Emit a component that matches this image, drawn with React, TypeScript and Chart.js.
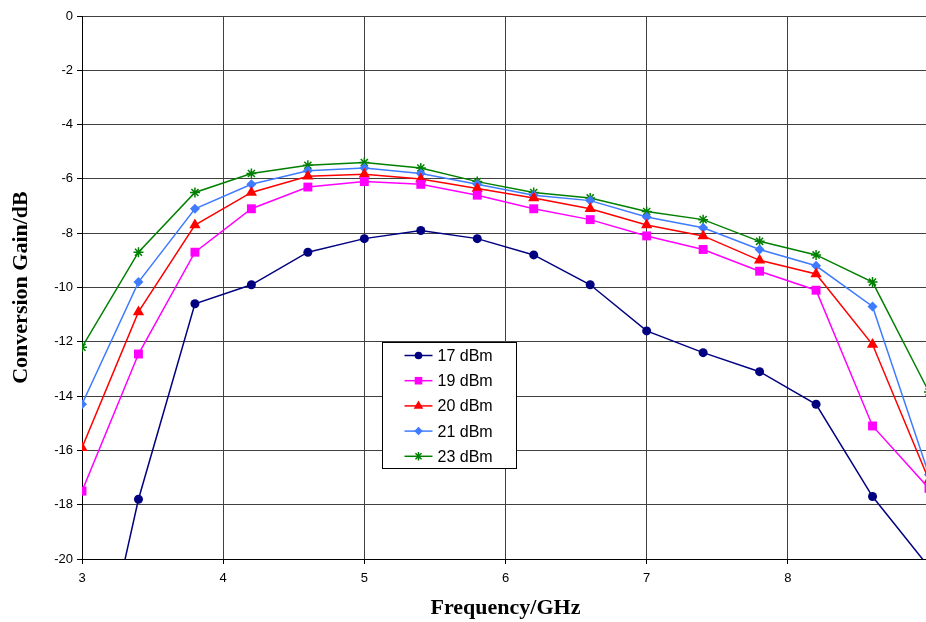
import React, { useEffect, useRef } from 'react';
import { Chart, registerables } from 'chart.js';

Chart.register(...registerables);

const frequencies = [3, 3.4, 3.8, 4.2, 4.6, 5, 5.4, 5.8, 6.2, 6.6, 7, 7.4, 7.8, 8.2, 8.6, 9];
const gain17 = [-27.1, -17.8, -10.6, -9.9, -8.7, -8.2, -7.9, -8.2, -8.8, -9.9, -11.6, -12.4, -13.1, -14.3, -17.7, -20.3];
const gain19 = [-17.5, -12.45, -8.7, -7.1, -6.3, -6.1, -6.2, -6.6, -7.1, -7.5, -8.1, -8.6, -9.4, -10.1, -15.1, -17.4];
const gain20 = [-15.9, -10.9, -7.7, -6.5, -5.9, -5.83, -6.0, -6.35, -6.7, -7.1, -7.7, -8.1, -9.0, -9.5, -12.1, -17.1];
const gain21 = [-14.3, -9.8, -7.1, -6.2, -5.7, -5.6, -5.8, -6.2, -6.6, -6.8, -7.4, -7.8, -8.6, -9.2, -10.7, -16.9];
const gain23 = [-12.2, -8.7, -6.5, -5.8, -5.5, -5.4, -5.6, -6.1, -6.5, -6.7, -7.2, -7.5, -8.3, -8.8, -9.8, -13.85];

const seriesLabels = ['17 dBm', '19 dBm', '20 dBm', '21 dBm', '23 dBm'];
const seriesValues = [gain17, gain19, gain20, gain21, gain23];
const seriesColors = ['#000080', '#FF00FF', '#FF0000', '#3F7BFF', '#008000'];
const seriesMarkers = ['circle', 'rect', 'triangle', 'rectRot', 'star'];
const seriesMarkerRadius = [4.5, 6.3, 6.5, 5, 5];

const xTitle = 'Frequency/GHz';
const yTitle = 'Conversion Gain/dB';

const tickFont = { family: '"Liberation Sans", Arial, sans-serif', size: 13 };
const titleFont = { family: '"Liberation Serif", "Times New Roman", serif', size: 22, weight: 'bold' as const };

function drawMarker(ctx: CanvasRenderingContext2D, style: string, x: number, y: number, r: number, color: string) {
  ctx.save();
  ctx.fillStyle = color;
  ctx.strokeStyle = color;
  ctx.lineWidth = 1.5;
  ctx.beginPath();
  if (style === 'circle') {
    ctx.arc(x, y, r, 0, Math.PI * 2);
    ctx.fill();
  } else if (style === 'rect') {
    const s = r * Math.SQRT1_2;
    ctx.rect(x - s, y - s, 2 * s, 2 * s);
    ctx.fill();
  } else if (style === 'triangle') {
    ctx.moveTo(x, y - r);
    ctx.lineTo(x + r * Math.cos(Math.PI / 6), y + r * 0.5);
    ctx.lineTo(x - r * Math.cos(Math.PI / 6), y + r * 0.5);
    ctx.closePath();
    ctx.fill();
  } else if (style === 'rectRot') {
    ctx.moveTo(x, y - r);
    ctx.lineTo(x + r, y);
    ctx.lineTo(x, y + r);
    ctx.lineTo(x - r, y);
    ctx.closePath();
    ctx.fill();
  } else if (style === 'star') {
    const d = r * Math.SQRT1_2;
    ctx.moveTo(x, y - r);
    ctx.lineTo(x, y + r);
    ctx.moveTo(x - d, y - d);
    ctx.lineTo(x + d, y + d);
    ctx.moveTo(x - d, y + d);
    ctx.lineTo(x + d, y - d);
    ctx.stroke();
  }
  ctx.restore();
}

const legendPlugin = {
  id: 'floatingLegend',
  afterDraw(chart: any) {
    const { ctx, chartArea } = chart;
    const w = chartArea.right - chartArea.left;
    const h = chartArea.bottom - chartArea.top;
    const bx = Math.round(chartArea.left + w * 0.3543) + 0.5;
    const by = Math.round(chartArea.top + h * 0.6004) + 0.5;
    const bw = 134;
    const bh = 126;
    ctx.save();
    ctx.fillStyle = '#ffffff';
    ctx.fillRect(bx, by, bw, bh);
    ctx.strokeStyle = '#000000';
    ctx.lineWidth = 1;
    ctx.strokeRect(bx, by, bw, bh);
    ctx.font = '16px "Liberation Sans", Arial, sans-serif';
    ctx.textBaseline = 'middle';
    ctx.textAlign = 'left';
    seriesLabels.forEach((label, i) => {
      const cy = by + 13 + i * 25.2;
      ctx.strokeStyle = seriesColors[i];
      ctx.lineWidth = 1.5;
      ctx.beginPath();
      ctx.moveTo(bx + 22, cy);
      ctx.lineTo(bx + 50, cy);
      ctx.stroke();
      drawMarker(ctx, seriesMarkers[i], bx + 36, cy, seriesMarkerRadius[i] * 0.85, seriesColors[i]);
      ctx.fillStyle = '#000000';
      ctx.fillText(label, bx + 55, cy + 1);
    });
    ctx.restore();
  },
};

export default function App() {
  const canvasRef = useRef<HTMLCanvasElement | null>(null);

  useEffect(() => {
    if (!canvasRef.current) return;
    const datasets = seriesLabels.map((label, i) => ({
      label,
      data: frequencies.map((f, j) => ({ x: f, y: seriesValues[i][j] })),
      borderColor: seriesColors[i],
      backgroundColor: seriesColors[i],
      borderWidth: 1.5,
      pointStyle: seriesMarkers[i],
      pointRadius: seriesMarkerRadius[i],
      pointBorderWidth: seriesMarkers[i] === 'star' ? 1.5 : 0,
      pointBorderColor: seriesColors[i],
      pointBackgroundColor: seriesColors[i],
      tension: 0,
      fill: false,
    }));
    const chart = new Chart(canvasRef.current, {
      type: 'line',
      data: { datasets },
      plugins: [legendPlugin],
      options: {
        animation: false,
        responsive: false,
        devicePixelRatio: 1,
        layout: { padding: { left: 0, top: 16, right: 16, bottom: 0 } },
        plugins: {
          legend: { display: false },
          tooltip: { enabled: false },
        },
        scales: {
          x: {
            type: 'linear',
            min: 3,
            max: 9,
            afterFit: (s: any) => { s.height = 63; },
            ticks: { stepSize: 1, color: '#000', font: tickFont, padding: 7, maxRotation: 0 },
            grid: { color: '#404040', lineWidth: 1, tickLength: 5, tickColor: '#000' },
            border: { color: '#000', width: 1 },
            title: { display: true, text: xTitle, color: '#000', font: titleFont, padding: { top: 0, bottom: 0 } },
          },
          y: {
            type: 'linear',
            min: -20,
            max: 0,
            afterFit: (s: any) => { s.width = 82; },
            ticks: { stepSize: 2, color: '#000', font: tickFont, padding: 4 },
            grid: { color: '#404040', lineWidth: 1, tickLength: 5, tickColor: '#000' },
            border: { color: '#000', width: 1 },
            title: { display: true, text: yTitle, color: '#000', font: titleFont, padding: { top: 8, bottom: 0 } },
          },
        },
      },
    } as any);
    return () => chart.destroy();
  }, []);

  return (
    <div style={{ position: 'fixed', left: 0, top: 0, width: 926, height: 622, overflow: 'hidden', background: '#fff' }}>
      <canvas ref={canvasRef} width={945} height={622} style={{ display: 'block', width: 945, height: 622 }} />
    </div>
  );
}
